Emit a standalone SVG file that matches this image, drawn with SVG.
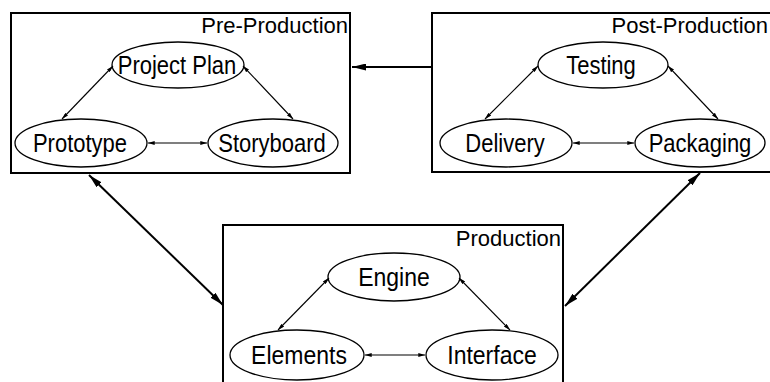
<svg xmlns="http://www.w3.org/2000/svg" width="770" height="382" viewBox="0 0 770 382">
  <style>
    .box { fill: #fff; stroke: #000; stroke-width: 2; }
    .node { fill: #fff; stroke: #000; stroke-width: 1.3; }
    .title { font-family: "Liberation Sans", Arial, Helvetica, sans-serif; font-size: 22px; fill: #000; text-anchor: end; }
    .label { font-family: "Liberation Sans", Arial, Helvetica, sans-serif; font-size: 25px; fill: #000; text-anchor: middle; }
    .inner { fill: none; stroke: #000; stroke-width: 1.1; marker-start: url(#sa); marker-end: url(#sa); }
    .outer { fill: none; stroke: #000; stroke-width: 2; }
  </style>
  <defs>
    <marker id="sa" viewBox="0 0 10 6" refX="10" refY="3" markerWidth="7" markerHeight="4" markerUnits="userSpaceOnUse" orient="auto-start-reverse">
      <path d="M0,0 L10,3 L0,6 Z" fill="#000"/>
    </marker>
    <marker id="la" viewBox="0 0 14 7" refX="14" refY="3.5" markerWidth="14" markerHeight="7" markerUnits="userSpaceOnUse" orient="auto-start-reverse">
      <path d="M0,0 L14,3.5 L0,7 Z" fill="#000"/>
    </marker>
  </defs>

  <!-- stage containers -->
  <g id="pre-production">
    <rect class="box" x="11" y="13" width="339" height="160"/>
    <text class="title" x="348" y="33">Pre-Production</text>
  </g>
  <g id="post-production">
    <rect class="box" x="432" y="13" width="345" height="159"/>
    <text class="title" x="768" y="33">Post-Production</text>
  </g>
  <g id="production">
    <rect class="box" x="223" y="225" width="340" height="170"/>
    <text class="title" x="561" y="246">Production</text>
  </g>

  <!-- task nodes; labels use a narrow horizontal scale -->
  <g id="project-plan">
    <ellipse class="node" cx="178" cy="65" rx="66" ry="23"/>
    <text class="label" transform="translate(177 74) scale(0.88 1)">Project Plan</text>
  </g>
  <g id="prototype">
    <ellipse class="node" cx="81" cy="143" rx="66" ry="24"/>
    <text class="label" transform="translate(80 152) scale(0.88 1)">Prototype</text>
  </g>
  <g id="storyboard">
    <ellipse class="node" cx="273" cy="143" rx="65" ry="24"/>
    <text class="label" transform="translate(272 152) scale(0.88 1)">Storyboard</text>
  </g>
  <g id="testing">
    <ellipse class="node" cx="603" cy="65" rx="65" ry="23"/>
    <text class="label" transform="translate(601 74) scale(0.88 1)">Testing</text>
  </g>
  <g id="delivery">
    <ellipse class="node" cx="506" cy="143" rx="66" ry="24"/>
    <text class="label" transform="translate(505 152) scale(0.88 1)">Delivery</text>
  </g>
  <g id="packaging">
    <ellipse class="node" cx="700" cy="143" rx="65" ry="24"/>
    <text class="label" transform="translate(700 152) scale(0.88 1)">Packaging</text>
  </g>
  <g id="engine">
    <ellipse class="node" cx="394" cy="277" rx="66" ry="24"/>
    <text class="label" transform="translate(394 286) scale(0.92 1)">Engine</text>
  </g>
  <g id="elements">
    <ellipse class="node" cx="297" cy="355" rx="67" ry="25"/>
    <text class="label" transform="translate(299 364) scale(0.92 1)">Elements</text>
  </g>
  <g id="interface">
    <ellipse class="node" cx="492" cy="355" rx="66" ry="25"/>
    <text class="label" transform="translate(492 364) scale(0.92 1)">Interface</text>
  </g>

  <!-- connectors -->
  <g id="connectors">
    <line class="inner" x1="113" y1="66" x2="62" y2="119"/>
    <line class="inner" x1="243" y1="66" x2="293" y2="119"/>
    <line class="inner" x1="148" y1="143" x2="207" y2="143"/>

    <line class="inner" x1="538" y1="66" x2="485" y2="119"/>
    <line class="inner" x1="668" y1="66" x2="718" y2="119"/>
    <line class="inner" x1="573" y1="143" x2="634" y2="143"/>

    <line class="inner" x1="329" y1="278" x2="278" y2="330"/>
    <line class="inner" x1="459" y1="278" x2="510" y2="330"/>
    <line class="inner" x1="365" y1="355" x2="425" y2="355"/>

    <line class="outer" x1="432" y1="67" x2="352" y2="67" marker-end="url(#la)"/>
    <line class="outer" x1="89" y1="175" x2="223" y2="305" marker-start="url(#la)" marker-end="url(#la)"/>
    <line class="outer" x1="700" y1="173" x2="565" y2="306" marker-start="url(#la)" marker-end="url(#la)"/>
  </g>
</svg>
